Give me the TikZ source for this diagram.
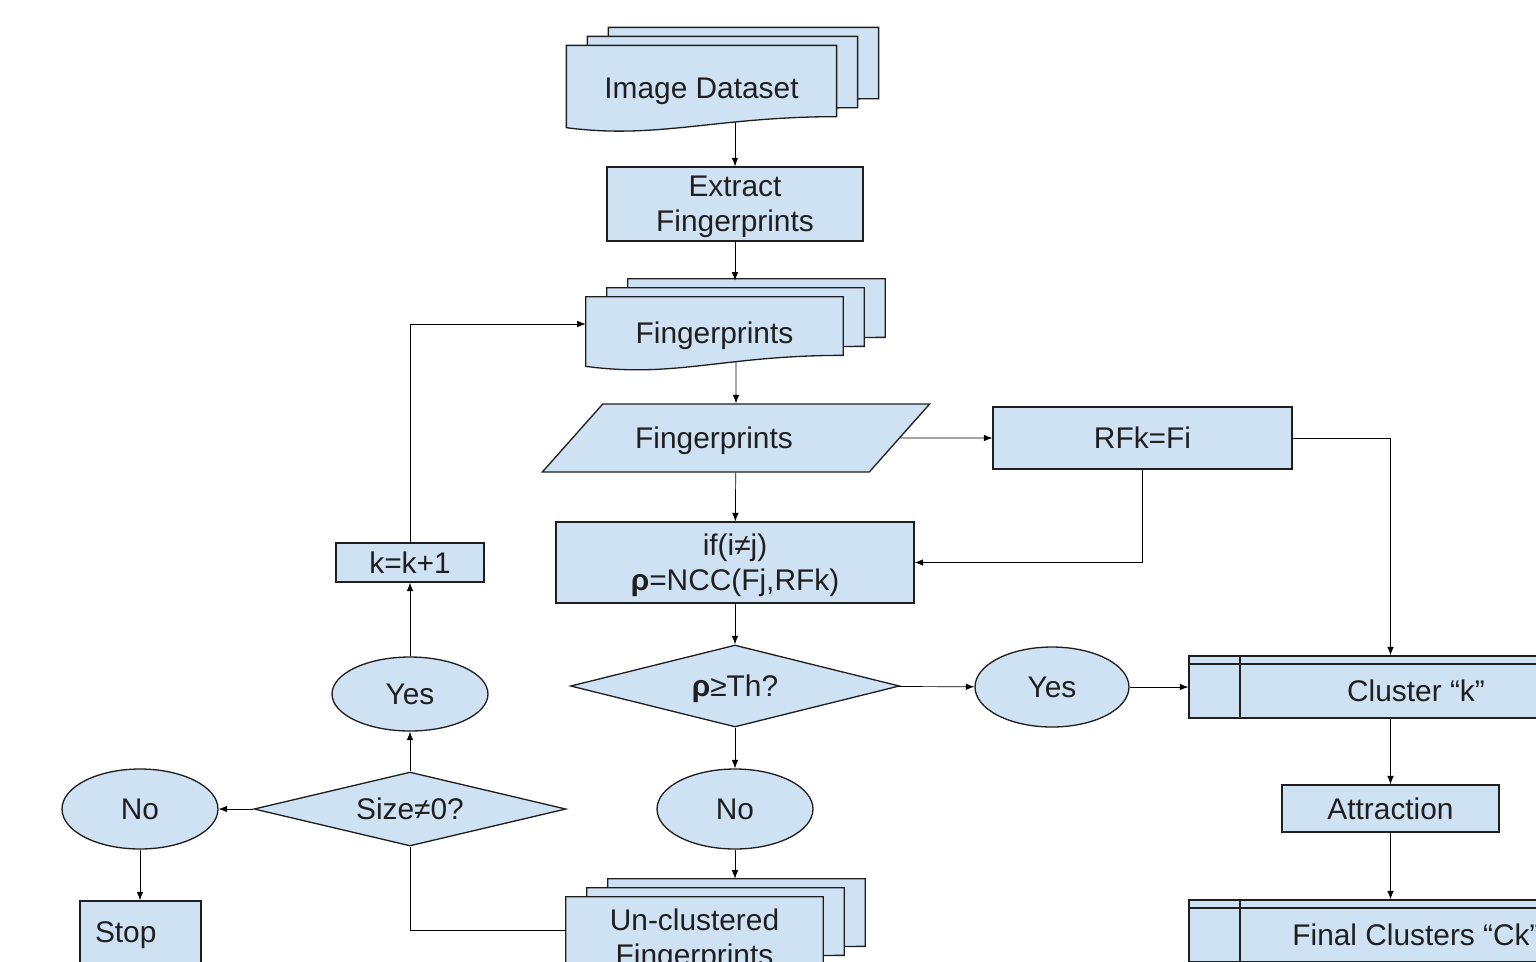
\documentclass[tikz,border=0pt]{standalone}
\usepackage{fontspec}
\setmainfont{Liberation Sans}
\usepackage{tikz}
\definecolor{LightBlue}{HTML}{CFE2F3}
\definecolor{Ink}{HTML}{1F1F1F}
\usetikzlibrary{shapes.geometric,arrows.meta,calc}
\pgfdeclarelayer{wires}
\pgfdeclarelayer{pages}
\pgfsetlayers{wires,pages,main}
\newcommand{\docpage}[3]{%
  \filldraw[sheet] ($(#1.north west)+(#2,#3)$) -- ($(#1.north east)+(#2,#3)$)
    -- ($(#1.south east)+(#2,#3-14)$) .. controls +(-120,0) and +(90,12) .. ($(#1.south west)+(#2,#3-3)$) -- cycle;}
\newcommand{\docstack}[1]{%
  \begin{pgfonlayer}{pages}
    \docpage{#1}{42}{-18}
    \docpage{#1}{21}{-9}
    \docpage{#1}{0}{0}
  \end{pgfonlayer}}
\newcommand{\rh}[0]{\textbf{ρ}}

\begin{document}
\begin{tikzpicture}[x=0.02cm, y=-0.02cm, ->, >={Latex[length=0.17cm,width=0.13cm]}, line width=0.75pt,
    every node/.style={font=\fontsize{17}{20}\selectfont, text=Ink, text depth=0pt},
    sheet/.style={-, draw=Ink, fill=LightBlue, line width=0.75pt},
    box/.style={rectangle, sheet, align=center, inner sep=2pt},
    doc/.style={rectangle, align=center, inner sep=2pt},
    oval/.style={ellipse, sheet, inner sep=0pt},
    decision/.style={diamond, sheet, inner sep=0pt},
    io/.style={trapezium, trapezium left angle=41, trapezium right angle=139,
      trapezium stretches=true, sheet},
    store/.style={box, text height=16.8pt,
      path picture={
        \draw[-, draw=Ink, line width=0.75pt] ([xshift=1.02cm]path picture bounding box.north west) -- ([xshift=1.02cm]path picture bounding box.south west);
        \draw[-, draw=Ink, line width=0.75pt] ([yshift=-0.16cm]path picture bounding box.north west) -- ([yshift=-0.16cm]path picture bounding box.north east);
      }}]
    \useasboundingbox (0,0) rectangle (1536,961);
    \clip (0,0) rectangle (1536,961);

    % main column
    \node[doc, minimum width=5.38cm, minimum height=1.68cm] (dataset) at (701.5,88) {Image Dataset};
    \docstack{dataset}
    \node[box, minimum width=5.12cm, minimum height=1.48cm] (extract) at (735,204) {Extract\\Fingerprints};
    \node[doc, minimum width=5.14cm, minimum height=1.44cm] (fprints) at (714.5,333) {Fingerprints};
    \docstack{fprints}
    \node[io, minimum width=7.76cm, minimum height=1.36cm] (para) at (736,438) {\phantom{Fingerprints}\llap{Fingerprints\hspace*{0.44cm}}};
    \node[box, minimum width=7.16cm, minimum height=1.62cm] (ifbox) at (735,562.5) {if(i≠j)\\\rh=NCC(Fj,RFk)};
    \node[decision, aspect=4, minimum width=6.58cm, minimum height=1.64cm] (rho) at (735,686) {\rh≥Th?};
    \node[oval, minimum width=3.12cm, minimum height=1.6cm] (nom) at (735,809) {No};
    \node[doc, minimum width=5.14cm, minimum height=1.62cm] (unclust) at (694.5,937.5) {Un-clustered\\Fingerprints};
    \docstack{unclust}

    % right column
    \node[box, minimum width=5.98cm, minimum height=1.24cm] (rfk) at (1142.5,438) {RFk=Fi};
    \node[oval, minimum width=3.08cm, minimum height=1.6cm] (yesr) at (1052,687) {Yes};
    \node[store, minimum width=9.08cm, minimum height=1.24cm] (cluster) at (1416,687) {Cluster “k”};
    \node[box, minimum width=4.34cm, minimum height=0.94cm] (attr) at (1390.5,808.5) {Attraction};
    \node[store, minimum width=9.08cm, minimum height=1.24cm] (final) at (1416,931) {Final Clusters “Ck”};

    % left loop
    \node[decision, aspect=4.2, minimum width=6.24cm, minimum height=1.48cm] (size) at (410,809) {Size≠0?};
    \node[oval, minimum width=3.12cm, minimum height=1.6cm] (nol) at (140,809) {No};
    \node[box, minimum width=2.42cm, minimum height=1.24cm, text width=1.82cm, align=left, inner xsep=0.3cm] (stop) at (140.5,932) {Stop};
    \node[oval, minimum width=3.12cm, minimum height=1.48cm] (yesl) at (410,694) {Yes};
    \node[box, minimum width=2.96cm, minimum height=0.78cm] (kinc) at (410,562.5) {k=k+1};

    % connectors leaving the documents
    \begin{pgfonlayer}{wires}
        \draw (dataset.center -| extract.north) -- (extract.north);
        \draw (fprints.center -| para.center) -- (para);
    \end{pgfonlayer}
    \coordinate (fprints-top) at ($(fprints.north -| extract.south)+(0,-16)$);
    \coordinate (unclust-top) at ($(unclust.north -| nom.south)+(0,-18)$);
    \draw (extract.south) -- (fprints-top);
    \draw (para) -- (rfk);
    \draw (para) -- (ifbox);
    \draw (rfk.south) |- (ifbox.east);
    \draw (rfk.east) -| (cluster.north -| attr.north);
    \draw (ifbox) -- (rho);
    \draw (rho) -- (yesr);
    \draw (yesr) -- (cluster);
    \draw (rho) -- (nom);
    \draw (nom.south) -- (unclust-top);
    \draw (cluster.south -| attr.north) -- (attr);
    \draw (attr) -- (final.north -| attr.south);

    % back round the loop
    \draw[-] ([yshift=0.14cm]unclust.west) -| (size.south);
    \draw (size) -- (nol);
    \draw (nol.south) -- (nol.south |- stop.north);
    \draw (size) -- (yesl);
    \draw (yesl) -- (kinc);
    \draw (kinc.north) |- ([yshift=0.18cm]fprints.west);
\end{tikzpicture}
\end{document}
